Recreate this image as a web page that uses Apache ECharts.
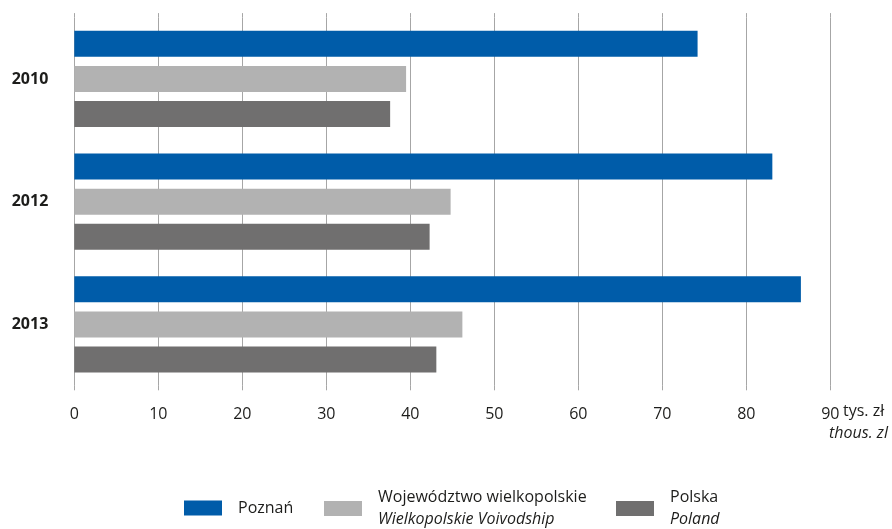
<!DOCTYPE html>
<html>
<head>
<meta charset="utf-8">
<script src="https://cdn.jsdelivr.net/npm/echarts@6/dist/echarts.min.js"></script>
<style>
html,body{margin:0;padding:0;background:#fff;}
#chart{width:892px;height:529px;}
</style>
</head>
<body>
<div id="chart"></div>
<script>
var categories = ['2010', '2012', '2013'];
var poznan = [74.2, 83.1, 86.5];
var wielkopolskie = [39.5, 44.8, 46.2];
var polska = [37.6, 42.3, 43.1];
var xTicks = [0, 10, 20, 30, 40, 50, 60, 70, 80, 90];
var seriesNames = ['Poznań', 'Województwo wielkopolskie', 'Polska'];
var seriesNamesEn = ['', 'Wielkopolskie Voivodship', 'Poland'];
var unitPl = 'tys. zł';
var unitEn = 'thous. zl';

var FONT = 'Open Sans';
var TXT = '#1d1d1b';
var GRID = '#a6a6a6';
var colors = ['#005ca9', '#b2b2b2', '#706f6f'];

var chart = echarts.init(document.getElementById('chart'));

function legendFor(i, left, top) {
  return {
    data: [seriesNames[i]],
    left: left,
    top: top,
    padding: 0,
    icon: 'rect',
    itemWidth: 38,
    itemHeight: 15,
    selectedMode: false,
    formatter: function (name) {
      var idx = seriesNames.indexOf(name);
      if (seriesNamesEn[idx]) {
        return '{a|' + name + '}\n{b|' + seriesNamesEn[idx] + '}';
      }
      return '{a|' + name + '}';
    },
    textStyle: {
      fontFamily: FONT,
      fontSize: 16,
      color: TXT,
      rich: {
        a: { fontFamily: FONT, fontSize: 16, color: TXT, lineHeight: 22, padding: [0, 0, 0, 11] },
        b: { fontFamily: FONT, fontSize: 16, color: TXT, fontStyle: 'italic', lineHeight: 22, padding: [0, 0, 0, 11] }
      }
    }
  };
}

var option = {
  animation: false,
  backgroundColor: '#fff',
  color: colors,
  grid: { left: 74.3, right: 61.7, top: 17.6, bottom: 143.2, containLabel: false },
  legend: [
    legendFor(0, 184, 500),
    legendFor(1, 324, 489.5),
    legendFor(2, 616, 489.5)
  ],
  xAxis: [
    {
      type: 'value',
      position: 'bottom',
      min: xTicks[0],
      max: xTicks[xTicks.length - 1],
      interval: 10,
      axisLine: { show: false },
      axisTick: { show: true, inside: false, length: 4.5, lineStyle: { color: GRID, width: 1 } },
      splitLine: { show: true, lineStyle: { color: GRID, width: 1 } },
      axisLabel: {
        margin: 21,
        fontFamily: FONT,
        fontSize: 16,
        color: TXT
      }
    },
    {
      type: 'value',
      position: 'top',
      min: xTicks[0],
      max: xTicks[xTicks.length - 1],
      interval: 10,
      axisLine: { show: false },
      axisTick: { show: true, inside: false, length: 4.5, lineStyle: { color: GRID, width: 1 } },
      splitLine: { show: false },
      axisLabel: { show: false }
    }
  ],
  yAxis: {
    type: 'category',
    data: categories,
    inverse: true,
    axisLine: { show: false },
    axisTick: { show: false },
    axisLabel: {
      margin: 26,
      fontFamily: FONT,
      fontSize: 16,
      fontWeight: 'bold',
      color: TXT
    }
  },
  graphic: [
    {
      type: 'text',
      left: 843,
      top: 403,
      style: { text: unitPl, font: '16px "Open Sans"', fill: TXT }
    },
    {
      type: 'text',
      right: 4,
      top: 425,
      style: { text: unitEn, font: 'italic 16px "Open Sans"', fill: TXT }
    }
  ],
  series: [
    { name: seriesNames[0], type: 'bar', data: poznan, barWidth: 26, barGap: '35%', itemStyle: { color: colors[0] } },
    { name: seriesNames[1], type: 'bar', data: wielkopolskie, barWidth: 26, barGap: '35%', itemStyle: { color: colors[1] } },
    { name: seriesNames[2], type: 'bar', data: polska, barWidth: 26, barGap: '35%', itemStyle: { color: colors[2] } }
  ]
};
chart.setOption(option);
</script>
</body>
</html>
